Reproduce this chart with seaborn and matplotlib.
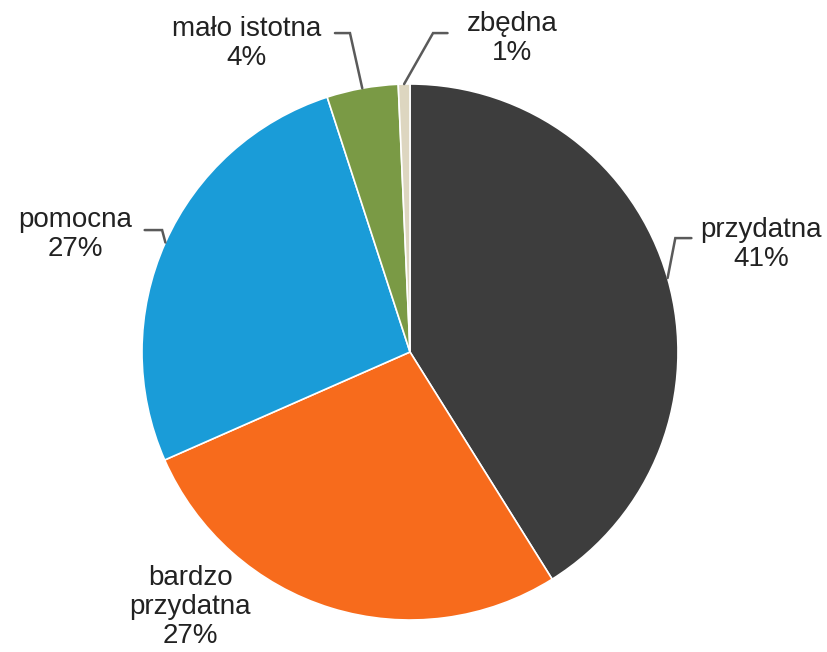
import numpy as np
import matplotlib
matplotlib.use('Agg')
import matplotlib.pyplot as plt
import seaborn as sns

categories = ['przydatna', 'bardzo\nprzydatna', 'pomocna', 'mało istotna', 'zbędna']
values = [41.1, 27.3, 26.6, 4.3, 0.7]
colors = ['#3D3D3D', '#F76B1C', '#1A9CD8', '#7A9A45', '#DDD6C0']

# label text centres and leader elbows (data coords, radius = 1)
label_pos = [(1.31, 0.40), (-0.82, -0.95), (-1.25, 0.44), (-0.61, 1.15), (0.38, 1.17)]
elbows = [((1.05, 0.425), (0.99, 0.425)),
          None,
          ((-0.99, 0.455), (-0.925, 0.455)),
          ((-0.28, 1.19), (-0.224, 1.19)),
          ((0.14, 1.19), (0.086, 1.19))]

sns.set_style('white')
plt.rcParams['font.family'] = ['Liberation Sans', 'DejaVu Sans']

fig = plt.figure(figsize=(8.27, 6.52), dpi=100)
ax = fig.add_axes([142 / 827, 32 / 652, 536 / 827, 536 / 652])

wedges, _ = ax.pie(values, colors=colors, startangle=90, counterclock=False,
                   radius=1, wedgeprops=dict(edgecolor='white', linewidth=1.2))

for i, w in enumerate(wedges):
    pct = '%.0f%%' % values[i]
    x, y = label_pos[i]
    ax.text(x, y, categories[i] + '\n' + pct, ha='center', va='center',
            fontsize=20, color='#222222', linespacing=1.15)
    if elbows[i] is not None:
        ang = np.deg2rad((w.theta1 + w.theta2) / 2)
        px, py = np.cos(ang), np.sin(ang)
        (x0, y0), (x1, y1) = elbows[i]
        ax.plot([x0, x1, px], [y0, y1, py], color='#5a5a5a', lw=1.8,
                solid_joinstyle='miter', clip_on=False)

ax.set_xlim(-1, 1)
ax.set_ylim(-1, 1)
ax.set_aspect('equal')
ax.axis('off')

fig.savefig('out.png', dpi=100, facecolor='white')
